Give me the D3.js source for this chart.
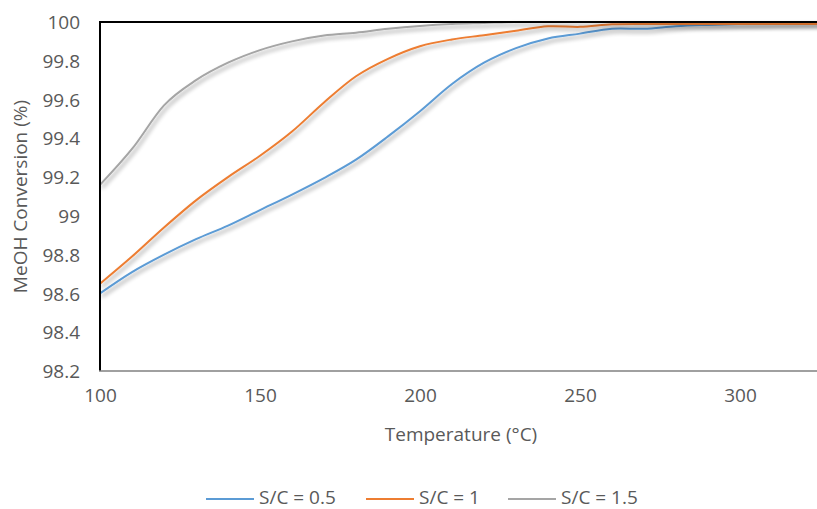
<!DOCTYPE html>
<html>
<head>
<meta charset="utf-8">
<script src="https://cdn.jsdelivr.net/npm/d3@7"></script>
<style>
  html, body { margin: 0; padding: 0; background: #fff; }
  svg { display: block; }
  text { font-family: "Open Sans", "Noto Sans", sans-serif; fill: #595959; }
</style>
</head>
<body>
<svg id="chart" width="817" height="509"></svg>
<script>
// Temperature grid (°C)
const temperatures = [100, 110, 120, 130, 140, 150, 160, 170, 180, 190, 200, 210, 220,
                      230, 240, 250, 260, 270, 280, 290, 300, 310, 320, 330];

// Methanol conversion (%) for each steam-to-carbon ratio
const conv_sc05 = [98.60, 98.71, 98.80, 98.88, 98.95, 99.03, 99.11, 99.195, 99.29, 99.41,
                   99.54, 99.68, 99.79, 99.865, 99.915, 99.94, 99.965, 99.965, 99.978, 99.985,
                   99.99, 99.993, 99.996, 99.998];
const conv_sc10 = [98.65, 98.79, 98.94, 99.08, 99.20, 99.31, 99.435, 99.585, 99.72, 99.81,
                   99.875, 99.91, 99.932, 99.955, 99.978, 99.975, 99.988, 99.99, 99.99, 99.99,
                   99.99, 99.99, 99.99, 99.99];
const conv_sc15 = [99.16, 99.345, 99.57, 99.70, 99.79, 99.855, 99.90, 99.93, 99.945, 99.965,
                   99.98, 99.99, 99.995, 100.0, 100.0, 100.0, 100.0, 100.0, 100.0, 100.0,
                   100.0, 100.0, 100.0, 100.0];

const seriesNames = ["S/C = 0.5", "S/C = 1", "S/C = 1.5"];
const seriesColors = ["#5B9BD5", "#ED7D31", "#A5A5A5"];

const xTicks = [100, 150, 200, 250, 300];
const yTicks = [98.2, 98.4, 98.6, 98.8, 99, 99.2, 99.4, 99.6, 99.8, 100];

const xTitle = "Temperature (°C)";
const yTitle = "MeOH Conversion (%)";

const series = [conv_sc05, conv_sc10, conv_sc15].map((vals, i) => ({
  name: seriesNames[i],
  color: seriesColors[i],
  points: temperatures.map((t, j) => ({ t, v: vals[j] }))
}));

const svg = d3.select("#chart");
const plot = { left: 100, right: 817, top: 22, bottom: 371 };

const x = d3.scaleLinear().domain([100, 324.06]).range([plot.left, plot.right]);
const y = d3.scaleLinear().domain([98.2, 100]).range([plot.bottom, plot.top]);

// Soft drop shadow under the series lines
const defs = svg.append("defs");
const shadow = defs.append("filter").attr("id", "lineShadow")
  .attr("x", "-5%").attr("y", "-20%").attr("width", "110%").attr("height", "140%");
shadow.append("feGaussianBlur").attr("in", "SourceAlpha").attr("stdDeviation", 2.2).attr("result", "blur");
shadow.append("feOffset").attr("in", "blur").attr("dx", 1.5).attr("dy", 2.5).attr("result", "off");
shadow.append("feComponentTransfer").attr("in", "off").attr("result", "faded")
  .append("feFuncA").attr("type", "linear").attr("slope", 0.4);
const merge = shadow.append("feMerge");
merge.append("feMergeNode").attr("in", "faded");
merge.append("feMergeNode").attr("in", "SourceGraphic");

defs.append("clipPath").attr("id", "plotClip")
  .append("rect")
  .attr("x", plot.left).attr("y", plot.top - 6)
  .attr("width", plot.right - plot.left + 10).attr("height", plot.bottom - plot.top + 6);

// Axes (labels only; frame lines drawn separately)
const yAxis = d3.axisLeft(y).tickValues(yTicks).tickSize(0).tickPadding(0)
  .tickFormat(d => String(+d.toFixed(1)));
const gy = svg.append("g").attr("transform", `translate(${plot.left - 20},0)`).call(yAxis);
gy.select(".domain").remove();
gy.selectAll("text").attr("font-size", 19).attr("dy", "0.35em")
  .style("font-family", "'Open Sans', sans-serif").attr("fill", "#595959");

const xAxis = d3.axisBottom(x).tickValues(xTicks).tickSize(0).tickPadding(0);
const gx = svg.append("g").attr("transform", `translate(0,${plot.bottom + 17})`).call(xAxis);
gx.select(".domain").remove();
gx.selectAll("text").attr("font-size", 19).attr("dy", "0.71em")
  .style("font-family", "'Open Sans', sans-serif").attr("fill", "#595959");

// Series lines
const line = d3.line()
  .x(d => x(d.t))
  .y(d => y(d.v))
  .curve(d3.curveCardinal.tension(0));

const gLines = svg.append("g").attr("clip-path", "url(#plotClip)");
gLines.selectAll("path.series")
  .data(series)
  .join("path")
  .attr("class", "series")
  .attr("fill", "none")
  .attr("stroke", d => d.color)
  .attr("stroke-width", 2)
  .attr("stroke-linejoin", "round")
  .attr("filter", "url(#lineShadow)")
  .attr("d", d => line(d.points));

// Plot frame: black top and left, grey category axis
svg.append("line")
  .attr("x1", plot.left).attr("x2", plot.right)
  .attr("y1", plot.top).attr("y2", plot.top)
  .attr("stroke", "#000").attr("stroke-width", 2);
svg.append("line")
  .attr("x1", plot.left).attr("x2", plot.left)
  .attr("y1", plot.top - 1).attr("y2", plot.bottom)
  .attr("stroke", "#000").attr("stroke-width", 2);
svg.append("line")
  .attr("x1", plot.left - 1).attr("x2", plot.right)
  .attr("y1", plot.bottom).attr("y2", plot.bottom)
  .attr("stroke", "#808080").attr("stroke-width", 1.5);

// Axis titles
svg.append("text")
  .attr("x", 461).attr("y", 436)
  .attr("text-anchor", "middle").attr("dominant-baseline", "middle")
  .attr("font-size", 19)
  .text(xTitle);
svg.append("text")
  .attr("transform", `translate(22,${(plot.top + plot.bottom) / 2}) rotate(-90)`)
  .attr("text-anchor", "middle").attr("dominant-baseline", "middle")
  .attr("font-size", 19)
  .text(yTitle);

// Legend
const legendX = [206, 366, 508];
const legend = svg.append("g");
series.forEach((s, i) => {
  const g = legend.append("g").attr("transform", `translate(${legendX[i]},499)`);
  g.append("line").attr("x1", 0).attr("x2", 48).attr("y1", 0).attr("y2", 0)
    .attr("stroke", s.color).attr("stroke-width", 2);
  g.append("text").attr("x", 53).attr("y", 0)
    .attr("dominant-baseline", "middle").attr("font-size", 19)
    .text(s.name);
});
</script>
</body>
</html>
